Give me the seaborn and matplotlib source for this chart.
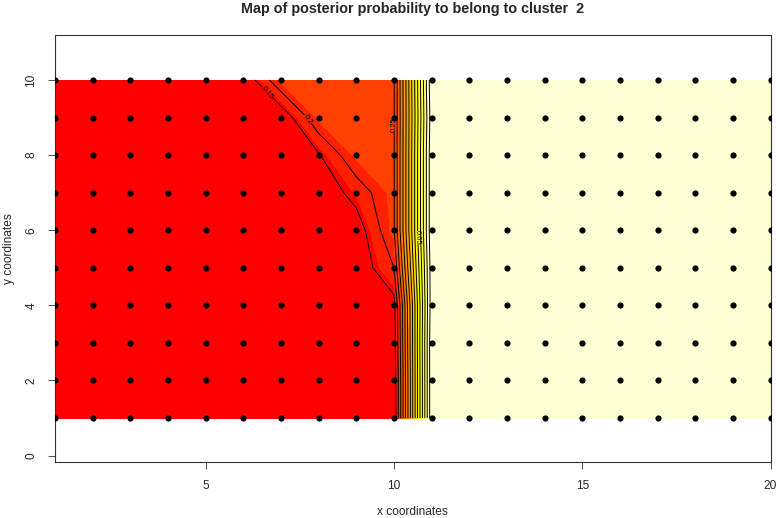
import numpy as np
import matplotlib
matplotlib.use("Agg")
import matplotlib.pyplot as plt
import seaborn as sns

sns.set_style("white")
plt.rcParams["font.family"] = ["Liberation Sans", "DejaVu Sans"]

# grid of the spatial units
x_coords = list(range(1, 21))
y_coords = list(range(1, 11))

# posterior probability to belong to cluster 2, one row per y value (y = 1 .. 10)
prob_y1 = [0.10, 0.11, 0.11, 0.11, 0.11, 0.11, 0.11, 0.11, 0.11, 0.11, 0.89, 0.89, 0.89, 0.89, 0.89, 0.89, 0.89, 0.89, 0.89, 0.89]
prob_y2 = [0.11, 0.11, 0.11, 0.11, 0.11, 0.11, 0.11, 0.11, 0.11, 0.11, 0.89, 0.89, 0.89, 0.89, 0.89, 0.89, 0.89, 0.89, 0.89, 0.89]
prob_y3 = [0.11, 0.11, 0.11, 0.11, 0.11, 0.11, 0.11, 0.11, 0.11, 0.12, 0.89, 0.89, 0.89, 0.89, 0.89, 0.89, 0.89, 0.89, 0.89, 0.89]
prob_y4 = [0.11, 0.11, 0.11, 0.11, 0.11, 0.11, 0.11, 0.11, 0.11, 0.13, 0.88, 0.89, 0.89, 0.89, 0.89, 0.89, 0.89, 0.89, 0.89, 0.89]
prob_y5 = [0.11, 0.11, 0.11, 0.11, 0.11, 0.11, 0.11, 0.11, 0.11, 0.20, 0.88, 0.89, 0.89, 0.89, 0.89, 0.89, 0.89, 0.89, 0.89, 0.89]
prob_y6 = [0.11, 0.11, 0.11, 0.11, 0.11, 0.11, 0.11, 0.11, 0.12, 0.245, 0.89, 0.89, 0.89, 0.89, 0.89, 0.89, 0.89, 0.89, 0.89, 0.89]
prob_y7 = [0.11, 0.11, 0.11, 0.11, 0.11, 0.11, 0.11, 0.11, 0.17, 0.245, 0.89, 0.89, 0.89, 0.89, 0.89, 0.89, 0.89, 0.89, 0.89, 0.89]
prob_y8 = [0.11, 0.11, 0.11, 0.11, 0.11, 0.11, 0.11, 0.145, 0.24, 0.245, 0.89, 0.89, 0.89, 0.89, 0.89, 0.89, 0.89, 0.89, 0.89, 0.89]
prob_y9 = [0.11, 0.11, 0.11, 0.11, 0.11, 0.11, 0.11, 0.24, 0.24, 0.245, 0.88, 0.89, 0.89, 0.89, 0.89, 0.89, 0.89, 0.89, 0.89, 0.89]
prob_y10 = [0.11, 0.11, 0.11, 0.11, 0.11, 0.11, 0.24, 0.24, 0.24, 0.245, 0.89, 0.89, 0.89, 0.89, 0.89, 0.89, 0.89, 0.89, 0.89, 0.89]

# contour levels: those without a readable label, and those with one
plain_levels = [0.3, 0.35, 0.4, 0.45, 0.5, 0.55, 0.6, 0.7, 0.75, 0.8, 0.85]
labelled_levels = [0.15, 0.2, 0.25, 0.65]
label_spots = [(6.7, 9.7), (7.6, 8.9), (10.02, 8.8), (10.7, 5.8)]

x_ticks = [5, 10, 15, 20]
y_ticks = [0, 2, 4, 6, 8, 10]

# R heat.colors(12)
heat12 = ["#FF0000", "#FF2000", "#FF4000", "#FF6000", "#FF8000", "#FF9F00",
          "#FFBF00", "#FFDF00", "#FFFF00", "#FFFF2A", "#FFFF80", "#FFFFD5"]

z = np.array([prob_y1, prob_y2, prob_y3, prob_y4, prob_y5,
              prob_y6, prob_y7, prob_y8, prob_y9, prob_y10])
X, Y = np.meshgrid(x_coords, y_coords)

fig = plt.figure(figsize=(7.76, 5.18), dpi=100)
ax = fig.add_axes([55 / 776, 56 / 518, 715.5 / 776, 426.7 / 518])

# image of the probabilities (12 equal bands over the range, like image())
breaks = np.linspace(z.min(), z.max(), 13)
ax.contourf(X, Y, z, levels=breaks, colors=heat12)

# contour lines
ax.contour(X, Y, z, levels=plain_levels, colors="black", linewidths=0.7)
cs = ax.contour(X, Y, z, levels=labelled_levels, colors="black", linewidths=0.7)
ax.clabel(cs, fmt="%g", fontsize=5.5, inline=True, inline_spacing=1,
          manual=label_spots)

# spatial units
sns.scatterplot(x=X.ravel(), y=Y.ravel(), color="black", s=20, linewidth=0,
                ax=ax, zorder=5, legend=False)

ax.set_xlim(1, 20)
ax.set_ylim(-0.17, 11.19)
ax.set_xticks(x_ticks)
ax.set_yticks(y_ticks)
ax.set_yticklabels([str(v) for v in y_ticks], rotation=90, va="center")
ax.tick_params(length=5.2, width=0.75, color="#555555", pad=7.5, labelsize=8.6,
               bottom=True, left=True)
for sp in ax.spines.values():
    sp.set_linewidth(0.8)
    sp.set_color("#333333")

ax.set_xlabel("x coordinates", fontsize=8.6, va="center")
ax.xaxis.set_label_coords(0.5, -0.117)
ax.set_ylabel("y coordinates", fontsize=8.6, va="center")
ax.yaxis.set_label_coords(-0.064, 0.5)
ax.set_title("Map of posterior probability to belong to cluster  2",
             fontsize=10.4, fontweight="bold", pad=16)

fig.savefig("out.png", dpi=100)
